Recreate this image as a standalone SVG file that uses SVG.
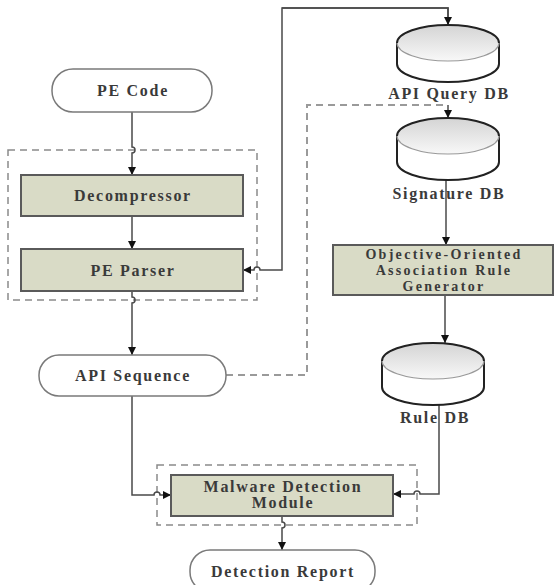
<svg xmlns="http://www.w3.org/2000/svg" width="557" height="585" viewBox="0 0 557 585">
<style>
.t{font-family:"Liberation Serif","Times New Roman",serif;font-weight:bold;font-size:16px;fill:#3a3a3a;text-anchor:middle;letter-spacing:1.7px}
.s{font-size:14px;letter-spacing:2.3px}
.term{fill:#fff;stroke:#7a7a7a;stroke-width:1.5}
.box{fill:#d9dbc6;stroke:#5a5a5a;stroke-width:2}
.grp{fill:none;stroke:#8a8a8a;stroke-width:1.5;stroke-dasharray:7 5}
.c{fill:none;stroke:#4a4a4a;stroke-width:1.5}
.d{fill:none;stroke:#9a9a9a;stroke-width:2;stroke-dasharray:7 5}
.cylb{fill:#fff;stroke:#222;stroke-width:2}
.cylt{fill:url(#g);stroke:none}
.cyle{fill:none;stroke:#222;stroke-width:2}
.cyli{fill:none;stroke:#999;stroke-width:1.2}
</style>
<defs>
<linearGradient id="g" x1="0" y1="0" x2="0" y2="1">
<stop offset="0" stop-color="#d4d4d4"/>
<stop offset="1" stop-color="#f8f8f8"/>
</linearGradient>
<marker id="a" viewBox="0 0 10 10" refX="10" refY="5" markerWidth="8" markerHeight="8" orient="auto" markerUnits="userSpaceOnUse">
<path d="M0,0 L10,5 L0,10 z" fill="#111"/>
</marker>
</defs>

<g id="groups">
<rect class="grp" x="8" y="150" width="249" height="150"/>
<rect class="grp" x="157" y="465" width="260" height="60"/>
</g>

<g id="connectors">
<path class="c" d="M132,112 V147 a3,3 0 0 1 0,6 V175" marker-end="url(#a)"/>
<path class="c" d="M132,216 V249" marker-end="url(#a)"/>
<path class="c" d="M132,291 V297 a3,3 0 0 1 0,6 V355" marker-end="url(#a)"/>
<path class="c" d="M132,396 V495 H154 a3,3 0 0 1 6,0 H171" marker-end="url(#a)"/>
<path class="c" d="M448,25 V8 H282 V270 H260 a3,3 0 0 0 -6,0 H243" marker-end="url(#a)"/>
<path class="c" d="M282,8 H448 V25" marker-end="url(#a)"/>
<path class="d" d="M226,375 H307 V105 H446"/>
<path class="c" d="M448,105 V118" marker-end="url(#a)"/>
<path class="c" d="M446,180 V245" marker-end="url(#a)"/>
<path class="c" d="M445,295 V343" marker-end="url(#a)"/>
<path class="c" d="M439,405 V494 H420 a3,3 0 0 0 -6,0 H393" marker-end="url(#a)"/>
<path class="c" d="M282,516 V522 a3,3 0 0 1 0,6 V550" marker-end="url(#a)"/>
</g>

<g id="pe-code">
<rect class="term" x="52" y="69" width="160" height="43" rx="21"/>
<text class="t" x="133" y="96">PE Code</text>
</g>
<g id="decompressor">
<rect class="box" x="21" y="175" width="222" height="41"/>
<text class="t" x="133" y="201">Decompressor</text>
</g>
<g id="pe-parser">
<rect class="box" x="21" y="249" width="222" height="42"/>
<text class="t" x="133" y="276">PE Parser</text>
</g>
<g id="api-sequence">
<rect class="term" x="39" y="355" width="187" height="41" rx="20"/>
<text class="t" x="133" y="381">API Sequence</text>
</g>

<g id="api-query-db">
<path class="cylb" d="M397,43 V64 A51,18 0 0 0 499,64 V43"/>
<ellipse class="cylt" cx="448" cy="43" rx="51" ry="18"/>
<path class="cyle" d="M397,43 A51,18 0 0 1 499,43"/>
<path class="cyli" d="M397,43 A51,18 0 0 0 499,43"/>
<text class="t" x="449" y="99">API Query DB</text>
</g>
<g id="signature-db">
<path class="cylb" d="M397,136 V162 A51,18 0 0 0 499,162 V136"/>
<ellipse class="cylt" cx="448" cy="136" rx="51" ry="18"/>
<path class="cyle" d="M397,136 A51,18 0 0 1 499,136"/>
<path class="cyli" d="M397,136 A51,18 0 0 0 499,136"/>
<text class="t" x="449" y="199">Signature DB</text>
</g>
<g id="rule-generator">
<rect class="box" x="333" y="245" width="220" height="50"/>
<text class="t s" x="444" y="259">Objective-Oriented</text>
<text class="t s" x="444" y="275">Association Rule</text>
<text class="t s" x="444" y="291">Generator</text>
</g>
<g id="rule-db">
<path class="cylb" d="M382,361 V387 A51,18 0 0 0 484,387 V361"/>
<ellipse class="cylt" cx="433" cy="361" rx="51" ry="18"/>
<path class="cyle" d="M382,361 A51,18 0 0 1 484,361"/>
<path class="cyli" d="M382,361 A51,18 0 0 0 484,361"/>
<text class="t" x="435" y="423">Rule DB</text>
</g>

<g id="malware-detection">
<rect class="box" x="171" y="475" width="222" height="41"/>
<text class="t" x="283" y="492">Malware Detection</text>
<text class="t" x="283" y="508">Module</text>
</g>
<g id="detection-report">
<rect class="term" x="190" y="550" width="185" height="42" rx="20"/>
<text class="t" x="283" y="577">Detection Report</text>
</g>
</svg>
